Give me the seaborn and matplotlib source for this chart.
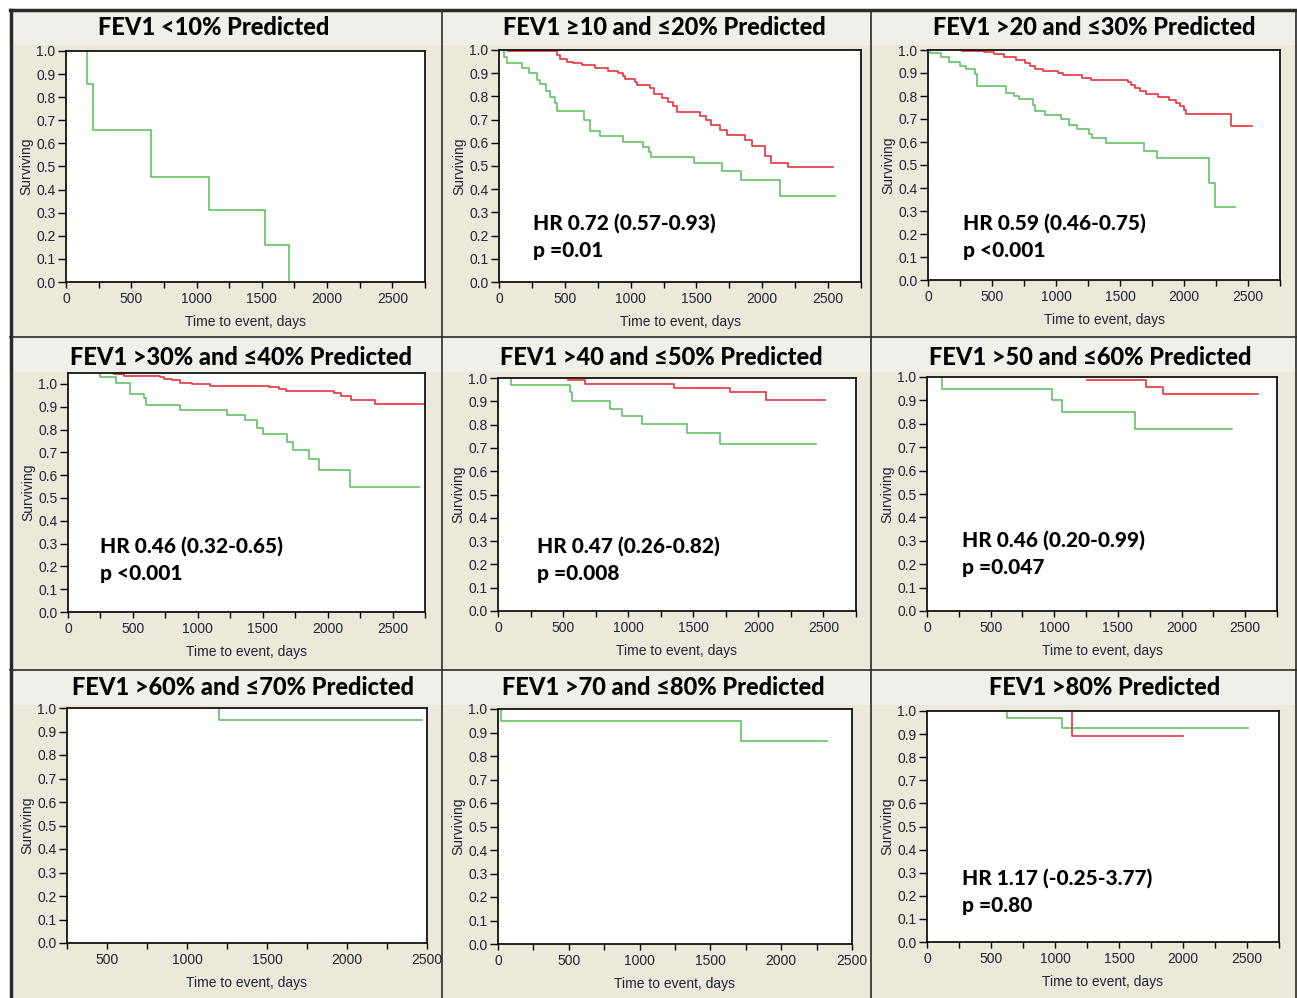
import numpy as np
import pandas as pd
import matplotlib
matplotlib.use("Agg")
import matplotlib.pyplot as plt
import seaborn as sns
from matplotlib.patches import Rectangle
from matplotlib.lines import Line2D
from matplotlib.ticker import MultipleLocator, FuncFormatter

# ---- data (days, surviving fraction) ----
titles = ["FEV1 <10% Predicted", "FEV1 \u226510 and \u226420% Predicted",
          "FEV1 >20 and \u226430% Predicted", "FEV1 >30% and \u226440% Predicted",
          "FEV1 >40 and \u226450% Predicted", "FEV1 >50 and \u226460% Predicted",
          "FEV1 >60% and \u226470% Predicted", "FEV1 >70 and \u226480% Predicted",
          "FEV1 >80% Predicted"]

g1_t = [164, 164, 210, 652, 1092, 1526, 1708]
g1_s = [1.0, 0.855, 0.657, 0.456, 0.311, 0.162, 0.01]

g2_t = [25, 40, 58, 172, 230, 286, 311, 357, 387, 428, 443, 648, 691, 767, 944, 1096,
        1141, 1154, 1483, 1693, 1842, 2133, 2551]
g2_s = [1.0, 0.971, 0.942, 0.921, 0.902, 0.870, 0.852, 0.824, 0.799, 0.770, 0.738, 0.698,
        0.650, 0.629, 0.604, 0.583, 0.561, 0.540, 0.511, 0.478, 0.439, 0.371, 0.371]
r2_t = [71, 438, 463, 514, 559, 628, 729, 830, 906, 939, 956, 1032, 1045, 1146, 1177, 1237,
        1285, 1323, 1349, 1526, 1576, 1614, 1677, 1733, 1872, 1923, 2019, 2070, 2199, 2538]
r2_s = [0.995, 0.978, 0.963, 0.950, 0.942, 0.934, 0.922, 0.911, 0.902, 0.888, 0.873, 0.863,
        0.849, 0.835, 0.810, 0.791, 0.777, 0.758, 0.734, 0.715, 0.698, 0.678, 0.655, 0.633,
        0.612, 0.588, 0.545, 0.515, 0.495, 0.495]

g3_t = [13, 13, 104, 161, 247, 299, 370, 385, 607, 669, 711, 820, 833, 911, 1042, 1102,
        1164, 1255, 1284, 1393, 1685, 1789, 2193, 2245, 2396]
g3_s = [1.0, 0.986, 0.971, 0.946, 0.932, 0.917, 0.896, 0.843, 0.812, 0.801, 0.786, 0.761,
        0.736, 0.717, 0.699, 0.674, 0.657, 0.633, 0.619, 0.594, 0.561, 0.529, 0.422, 0.316, 0.316]
r3_t = [263, 438, 513, 591, 690, 755, 794, 839, 898, 1016, 1055, 1206, 1276, 1563, 1589,
        1615, 1659, 1706, 1797, 1883, 1935, 1966, 1997, 2018, 2370, 2534]
r3_s = [0.996, 0.990, 0.981, 0.968, 0.957, 0.945, 0.932, 0.917, 0.909, 0.899, 0.891, 0.880,
        0.870, 0.862, 0.848, 0.833, 0.822, 0.807, 0.794, 0.783, 0.771, 0.757, 0.739, 0.722,
        0.671, 0.671]

g4_t = [250, 250, 372, 480, 582, 600, 859, 1228, 1367, 1454, 1505, 1690, 1736, 1856, 1936, 2172, 2703]
g4_s = [1.046, 1.029, 1.003, 0.958, 0.937, 0.909, 0.887, 0.864, 0.840, 0.808, 0.782, 0.747,
        0.712, 0.671, 0.624, 0.548, 0.548]
r4_t = [351, 433, 710, 740, 803, 864, 954, 1095, 1551, 1623, 1677, 2051, 2100, 2177, 2364, 2749]
r4_s = [1.043, 1.037, 1.029, 1.023, 1.016, 1.006, 0.999, 0.993, 0.987, 0.977, 0.968, 0.959,
        0.949, 0.928, 0.911, 0.911]

g5_t = [97, 97, 551, 567, 859, 949, 1108, 1449, 1705, 2444]
g5_s = [1.0, 0.969, 0.940, 0.901, 0.868, 0.835, 0.803, 0.763, 0.718, 0.718]
r5_t = [538, 669, 1354, 1782, 2059, 2513]
r5_s = [0.993, 0.974, 0.959, 0.940, 0.907, 0.907]

g6_t = [117, 117, 982, 1060, 1632, 2397]
g6_s = [1.0, 0.95, 0.90, 0.85, 0.777, 0.777]
r6_t = [1261, 1718, 1856, 2598]
r6_s = [0.986, 0.957, 0.929, 0.929]

g7_t = [1203, 1203, 2469]
g7_s = [1.0, 0.95, 0.95]

g8_t = [24, 24, 1714, 2323]
g8_s = [1.0, 0.95, 0.865, 0.865]

g9_t = [624, 624, 1055, 2509]
g9_s = [1.0, 0.968, 0.928, 0.928]
r9_t = [1133, 1133, 2000]
r9_s = [1.0, 0.891, 0.891]

hr_text = [None, ("HR 0.72 (0.57-0.93)", "p =0.01"), ("HR 0.59 (0.46-0.75)", "p <0.001"),
           ("HR 0.46 (0.32-0.65)", "p <0.001"), ("HR 0.47 (0.26-0.82)", "p =0.008"),
           ("HR 0.46 (0.20-0.99)", "p =0.047"), None, None,
           ("HR 1.17 (-0.25-3.77)", "p =0.80")]

greens = [(g1_t, g1_s), (g2_t, g2_s), (g3_t, g3_s), (g4_t, g4_s), (g5_t, g5_s),
          (g6_t, g6_s), (g7_t, g7_s), (g8_t, g8_s), (g9_t, g9_s)]
reds = [None, (r2_t, r2_s), (r3_t, r3_s), (r4_t, r4_s), (r5_t, r5_s), (r6_t, r6_s),
        None, None, (r9_t, r9_s)]

# layout in pixels (left, top, right, bottom)
W, H = 1297, 998
axes_px = [(66, 51, 425, 282), (499, 50, 861, 282), (928, 50, 1280, 280),
           (68, 373, 425, 612), (498, 378, 856, 611), (927, 377, 1277, 611),
           (67, 708, 427, 943), (498, 709, 852, 944), (927, 711, 1279, 942)]
xlims = [(0, 2750)] * 6 + [(250, 2500), (0, 2500), (0, 2750)]
ylims = [(0, 1)] * 3 + [(0, 1.048)] + [(0, 1)] * 5
title_xy = [(214, 35), (664, 35), (1094, 35), (241, 365), (661, 365), (1090, 365),
            (243, 695), (663, 695), (1105, 695)]
hr_xy = [None, (533, 230), (963, 230), (100, 553), (537, 553), (962, 547), None, None, (962, 885)]

GREEN = "#63c163"
RED = "#e8343a"
BODY = "#ece9da"
BAND = "#f0efe9"
TXT = "#232338"


def fx(x):
    return x / W


def fy(y):
    return 1 - y / H


fig = plt.figure(figsize=(12.97, 9.98), dpi=100)
fig.patch.set_facecolor("white")

col_edges = [10, 442, 871, 1297]
row_edges = [10, 337, 670, 998]
for r in range(3):
    for c in range(3):
        x0, x1 = col_edges[c], col_edges[c + 1]
        y0, y1 = row_edges[r], row_edges[r + 1]
        fig.patches.append(Rectangle((fx(x0), fy(y1)), fx(x1 - x0), (y1 - y0) / H,
                                     transform=fig.transFigure, facecolor=BODY, edgecolor="none", zorder=-2))
        fig.patches.append(Rectangle((fx(x0), fy(y0 + 35)), fx(x1 - x0), 35 / H,
                                     transform=fig.transFigure, facecolor=BAND, edgecolor="none", zorder=-1))

# frame lines
for x in [442, 871]:
    fig.lines.append(Line2D([fx(x), fx(x)], [fy(10), fy(998)], transform=fig.transFigure,
                            color="#2a2a2a", lw=1.2, zorder=-0.5))
for y in [337, 670]:
    fig.lines.append(Line2D([fx(10), fx(1297)], [fy(y), fy(y)], transform=fig.transFigure,
                            color="#2a2a2a", lw=1.2, zorder=-0.5))
fig.lines.append(Line2D([fx(10), fx(1297)], [fy(10), fy(10)], transform=fig.transFigure,
                        color="#2a2a2a", lw=2.5, zorder=-0.5))
fig.lines.append(Line2D([fx(11), fx(11)], [fy(10), fy(998)], transform=fig.transFigure,
                        color="#2a2a2a", lw=2.5, zorder=-0.5))
fig.lines.append(Line2D([fx(1296), fx(1296)], [fy(10), fy(998)], transform=fig.transFigure,
                        color="#2a2a2a", lw=1.2, zorder=-0.5))

title_font = dict(family=["Lato", "DejaVu Sans"], weight="black", size=17, color="black")
hr_font = dict(family=["Lato", "DejaVu Sans"], weight="black", size=15, color="black")

for i in range(9):
    l, t, r, b = axes_px[i]
    ax = fig.add_axes([fx(l), fy(b), (r - l) / W, (b - t) / H])
    ax.set_facecolor("white")

    gt, gs = greens[i]
    sns.lineplot(x=gt, y=gs, ax=ax, color=GREEN, lw=1.2, drawstyle="steps-post",
                 estimator=None, sort=False, legend=False)
    if reds[i] is not None:
        rt, rs = reds[i]
        sns.lineplot(x=rt, y=rs, ax=ax, color=RED, lw=1.2, drawstyle="steps-post",
                     estimator=None, sort=False, legend=False)

    ax.set_xlim(*xlims[i])
    ax.set_ylim(*ylims[i])
    ax.xaxis.set_major_locator(MultipleLocator(500))
    ax.xaxis.set_minor_locator(MultipleLocator(250))
    ax.yaxis.set_major_locator(MultipleLocator(0.1))
    ax.yaxis.set_major_formatter(FuncFormatter(lambda v, p: f"{v:.1f}"))
    ax.tick_params(axis="x", which="both", length=4, width=1, direction="out",
                   labelsize=10, labelcolor=TXT, pad=3)
    ax.tick_params(axis="y", which="major", length=6, width=1, direction="out",
                   labelsize=10, labelcolor=TXT, pad=1.5)
    for lab in ax.get_xticklabels() + ax.get_yticklabels():
        lab.set_fontfamily("Liberation Sans")
    for sp in ax.spines.values():
        sp.set_color("#111111")
        sp.set_linewidth(1.3)
    ax.set_xlabel("Time to event, days", fontsize=10, family="Liberation Sans",
                  color=TXT, labelpad=7)
    ax.set_ylabel("Surviving", fontsize=10, family="Liberation Sans", color=TXT, labelpad=2)

    tx, ty = title_xy[i]
    fig.text(fx(tx), fy(ty), titles[i], ha="center", va="baseline", **title_font)

    if hr_text[i] is not None:
        hx, hy = hr_xy[i]
        fig.text(fx(hx), fy(hy), hr_text[i][0], ha="left", va="baseline", **hr_font)
        fig.text(fx(hx), fy(hy + 27), hr_text[i][1], ha="left", va="baseline", **hr_font)

fig.savefig("out.png", dpi=100, facecolor=fig.get_facecolor())
